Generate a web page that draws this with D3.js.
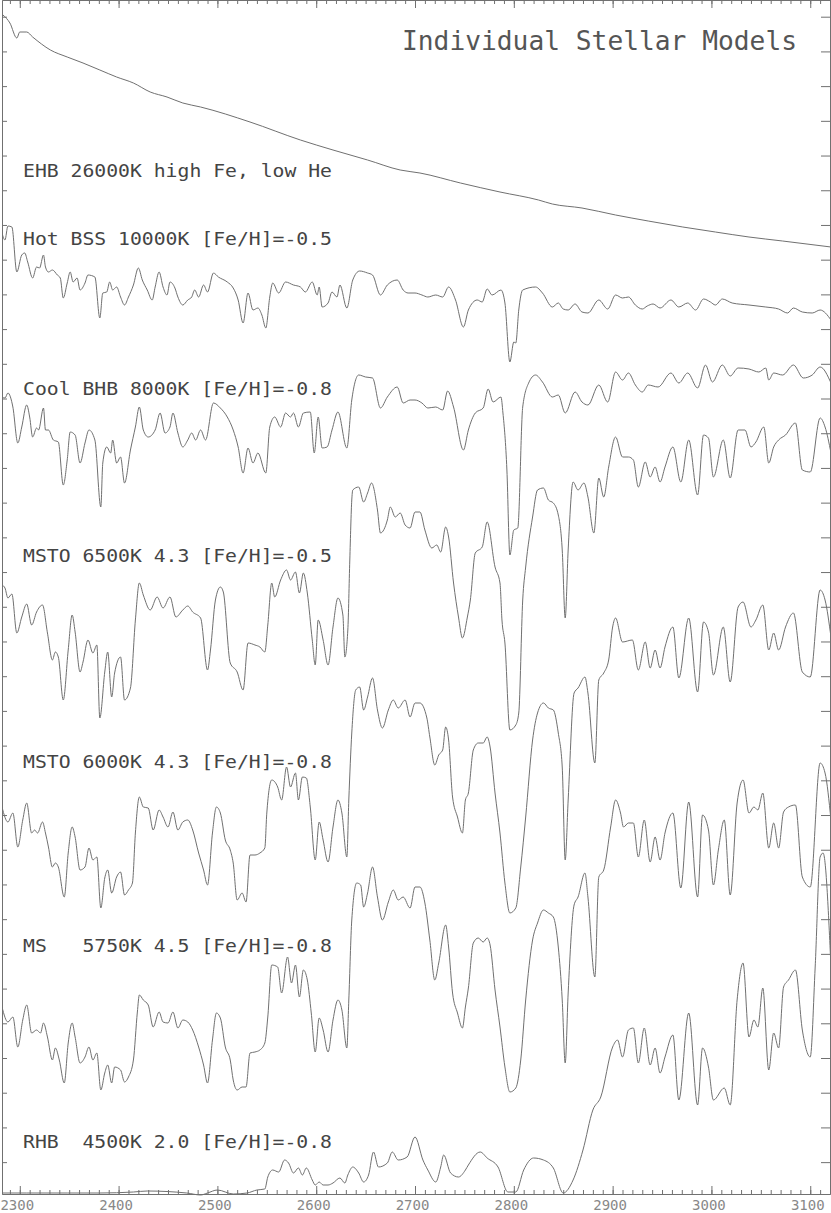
<!DOCTYPE html>
<html>
<head>
<meta charset="utf-8">
<script src="https://cdn.jsdelivr.net/npm/d3@7"></script>
<style>
  html, body { margin: 0; padding: 0; background: #fff; }
  svg { display: block; }
  text { font-family: "DejaVu Sans Mono", monospace; white-space: pre; }
</style>
</head>
<body>
<svg id="chart"></svg>
<script>
// wavelength (A) vs offset flux (arbitrary units)
const ehb = [[2283,117.9],[2290,117.1],[2297,115.6],[2300,116.2],[2307,116.2],[2313,115.7],[2331,114.4],[2348,113.7],[2364,113.1],[2381,112.4],[2398,111.7],[2415,111.1],[2432,110.2],[2449,109.7],[2465,109.1],[2483,108.7],[2533,107.2],[2584,105.4],[2617,104.4],[2652,103.4],[2685,102.4],[2705,102.1],[2746,101.1],[2786,100.2],[2825,99.4],[2839,99.0],[2869,98.6],[2903,97.9],[2936,97.3],[2971,96.7],[3004,96.2],[3038,95.7],[3072,95.3],[3121,94.7]];

const hotBSS = [[2282,96.1],[2285,95.4],[2288,96.8],[2292,96.7],[2297,92.2],[2302,93.9],[2305,94.1],[2308,93.2],[2313,91.6],[2317,92.7],[2320,92.6],[2324,93.9],[2326,92.7],[2329,92.2],[2333,92.4],[2338,91.9],[2341,91.6],[2344,89.6],[2348,91.1],[2351,92.2],[2354,91.2],[2358,91.6],[2361,90.4],[2366,91.1],[2369,91.9],[2376,91.7],[2381,87.6],[2384,90.1],[2388,90.2],[2391,91.2],[2394,90.4],[2398,90.7],[2402,89.7],[2406,88.9],[2410,89.7],[2415,90.9],[2420,92.6],[2424,91.4],[2429,90.4],[2434,89.4],[2437,90.7],[2441,92.2],[2445,90.7],[2449,89.9],[2452,91.2],[2457,90.6],[2460,89.7],[2465,88.9],[2470,89.4],[2474,89.7],[2477,90.4],[2481,89.7],[2486,90.9],[2490,90.2],[2496,92.1],[2501,91.7],[2510,91.2],[2516,90.6],[2521,89.4],[2526,87.1],[2531,90.1],[2536,88.4],[2541,88.6],[2545,87.9],[2549,86.6],[2553,89.7],[2556,91.1],[2562,90.1],[2569,91.2],[2577,90.9],[2584,90.7],[2589,90.2],[2596,91.2],[2601,89.9],[2603,90.7],[2606,88.7],[2612,89.1],[2616,90.2],[2621,89.7],[2624,90.9],[2631,88.6],[2637,91.4],[2644,92.3],[2652,92.1],[2657,91.9],[2665,89.9],[2672,90.9],[2682,91.4],[2688,90.4],[2693,90.1],[2700,90.1],[2707,89.9],[2713,89.7],[2721,89.9],[2728,89.7],[2734,90.7],[2741,89.4],[2749,86.7],[2754,88.4],[2763,89.4],[2768,89.2],[2773,90.5],[2778,89.9],[2787,90.4],[2791,89.1],[2796,83.2],[2800,85.2],[2802,85.1],[2805,88.4],[2809,90.4],[2822,90.7],[2829,90.1],[2839,88.7],[2845,89.1],[2850,88.5],[2855,88.4],[2862,89.0],[2869,88.2],[2875,88.1],[2886,89.4],[2895,88.5],[2903,89.9],[2910,89.6],[2916,89.7],[2923,88.9],[2930,88.5],[2935,88.8],[2941,89.0],[2948,88.6],[2959,89.4],[2967,88.7],[2976,89.1],[2984,88.4],[2992,89.5],[2999,89.2],[3004,88.9],[3011,89.5],[3021,89.1],[3038,88.9],[3055,88.7],[3068,88.5],[3077,88.1],[3083,88.6],[3092,88.2],[3102,88.1],[3110,88.4],[3121,87.4]];

const coolBHB = [[2282,79.7],[2285,79.6],[2288,80.1],[2293,78.7],[2298,75.1],[2302,76.7],[2307,78.9],[2310,77.7],[2313,75.7],[2317,76.6],[2319,76.4],[2324,78.6],[2326,76.4],[2329,76.4],[2334,75.4],[2339,75.2],[2344,70.9],[2348,73.4],[2351,76.2],[2356,75.9],[2361,73.1],[2366,75.1],[2370,76.4],[2376,75.4],[2382,68.7],[2384,73.1],[2388,74.7],[2392,74.1],[2394,75.4],[2398,73.1],[2402,73.7],[2406,71.1],[2412,74.4],[2417,76.7],[2421,78.7],[2425,76.4],[2430,75.7],[2437,76.4],[2442,78.1],[2447,76.1],[2452,76.7],[2455,78.1],[2460,76.1],[2465,74.7],[2470,75.4],[2474,76.1],[2478,75.4],[2483,76.4],[2488,75.4],[2496,79.1],[2503,78.6],[2510,77.7],[2516,76.4],[2521,74.7],[2526,72.1],[2531,74.6],[2536,73.1],[2541,74.1],[2549,72.1],[2553,76.7],[2558,77.7],[2564,76.7],[2569,78.1],[2574,77.7],[2577,78.1],[2582,76.7],[2587,78.1],[2594,78.2],[2598,74.1],[2602,77.7],[2606,74.6],[2611,74.7],[2616,76.4],[2622,78.2],[2631,74.6],[2636,79.4],[2643,81.9],[2650,81.7],[2657,81.6],[2665,78.6],[2672,79.7],[2682,80.7],[2688,79.1],[2695,79.4],[2700,79.4],[2707,79.1],[2713,78.6],[2721,78.7],[2728,78.4],[2733,80.3],[2739,78.7],[2749,74.4],[2754,76.4],[2761,78.1],[2769,78.6],[2774,80.5],[2779,79.2],[2787,79.7],[2789,78.1],[2793,72.4],[2796,63.9],[2800,66.4],[2804,66.6],[2809,78.7],[2815,81.1],[2822,81.9],[2829,81.2],[2839,79.7],[2845,79.9],[2852,78.1],[2862,80.2],[2869,79.2],[2875,78.9],[2886,80.9],[2895,79.2],[2903,82.2],[2910,81.4],[2916,82.1],[2923,80.9],[2930,80.2],[2936,80.9],[2946,80.7],[2959,82.1],[2967,81.1],[2976,82.1],[2986,80.6],[2994,82.9],[3001,81.2],[3011,82.9],[3019,81.8],[3027,82.6],[3038,82.5],[3048,82.2],[3055,82.6],[3058,81.4],[3063,82.1],[3072,81.9],[3083,82.9],[3093,81.6],[3102,81.9],[3110,82.7],[3121,81.1]];

const msto6500 = [[2282,60.9],[2285,60.6],[2288,59.6],[2292,60.0],[2297,56.1],[2302,57.7],[2307,59.0],[2312,56.9],[2317,58.2],[2323,58.9],[2328,56.1],[2333,53.4],[2336,54.2],[2339,53.7],[2344,49.4],[2349,54.4],[2353,57.9],[2356,56.2],[2361,52.2],[2364,53.2],[2369,55.4],[2374,54.1],[2378,54.9],[2381,47.6],[2386,52.2],[2389,54.2],[2393,49.7],[2396,52.1],[2402,53.7],[2406,49.4],[2412,50.6],[2417,57.4],[2421,61.1],[2425,59.9],[2432,58.4],[2439,59.7],[2445,58.6],[2452,59.7],[2458,57.7],[2465,58.4],[2470,58.8],[2475,58.2],[2483,57.6],[2490,52.4],[2493,54.4],[2498,59.4],[2503,60.7],[2506,60.2],[2513,53.1],[2520,52.2],[2526,50.4],[2531,55.1],[2538,54.9],[2543,54.7],[2548,54.2],[2551,56.9],[2555,61.1],[2558,59.7],[2564,61.4],[2570,62.4],[2574,61.4],[2579,62.2],[2583,60.1],[2587,62.1],[2591,60.1],[2596,55.4],[2599,52.9],[2602,57.4],[2607,55.4],[2612,52.9],[2617,56.7],[2622,59.6],[2627,57.9],[2629,53.7],[2632,56.4],[2634,63.4],[2636,69.4],[2637,70.4],[2643,70.7],[2648,69.2],[2652,70.1],[2656,71.1],[2662,68.4],[2665,66.1],[2672,67.4],[2675,68.7],[2680,67.7],[2685,68.1],[2690,66.9],[2695,66.6],[2700,68.2],[2705,68.2],[2710,66.4],[2717,64.6],[2722,64.9],[2726,64.2],[2731,66.7],[2734,65.7],[2739,61.1],[2744,57.7],[2748,55.6],[2753,57.7],[2756,59.4],[2761,64.1],[2768,64.7],[2773,67.2],[2781,62.7],[2786,61.1],[2788,57.4],[2791,55.1],[2796,46.4],[2802,46.9],[2805,48.1],[2809,59.4],[2812,62.7],[2819,67.7],[2824,70.4],[2830,70.6],[2835,69.4],[2840,69.1],[2845,67.9],[2849,64.4],[2852,57.6],[2855,64.4],[2860,71.2],[2865,70.4],[2871,71.1],[2875,69.7],[2881,66.1],[2886,71.6],[2891,69.7],[2896,72.7],[2903,75.7],[2910,73.7],[2916,73.7],[2921,73.4],[2926,70.7],[2933,73.2],[2938,71.7],[2943,72.7],[2948,71.2],[2953,72.7],[2961,74.7],[2969,71.2],[2977,75.4],[2986,69.9],[2992,75.9],[2997,75.6],[3002,71.7],[3012,75.4],[3019,71.6],[3027,76.4],[3034,76.4],[3040,74.7],[3045,75.2],[3053,76.7],[3058,73.1],[3063,74.7],[3068,75.4],[3075,75.9],[3085,77.1],[3092,72.4],[3100,72.2],[3110,77.6],[3115,76.7],[3121,74.1]];

const msto6000 = [[2282,38.7],[2288,37.2],[2293,38.1],[2298,34.7],[2303,37.4],[2307,39.1],[2312,36.1],[2315,36.4],[2318,36.1],[2323,37.2],[2326,36.1],[2329,34.7],[2333,32.7],[2336,33.1],[2339,32.7],[2345,29.7],[2349,34.1],[2353,36.7],[2356,35.7],[2361,32.4],[2366,32.7],[2370,34.6],[2374,33.4],[2378,33.7],[2382,28.6],[2386,31.6],[2389,32.4],[2393,30.1],[2398,31.7],[2402,32.2],[2406,29.9],[2410,30.4],[2414,31.1],[2417,36.1],[2421,39.7],[2425,38.7],[2430,38.6],[2435,36.4],[2441,38.4],[2445,37.7],[2450,36.7],[2455,38.2],[2460,36.4],[2465,37.2],[2470,37.4],[2475,36.4],[2481,34.1],[2486,32.4],[2490,30.9],[2495,36.1],[2499,38.7],[2503,38.1],[2508,35.4],[2513,34.4],[2516,33.1],[2520,29.4],[2525,30.1],[2529,29.2],[2533,33.9],[2538,33.9],[2543,34.1],[2548,34.6],[2550,38.1],[2555,41.4],[2561,40.7],[2565,39.4],[2570,42.7],[2574,40.7],[2579,42.1],[2582,39.4],[2586,41.7],[2590,41.6],[2594,38.7],[2599,33.4],[2603,37.2],[2607,35.4],[2612,33.2],[2617,36.7],[2622,39.4],[2626,38.1],[2631,33.7],[2633,39.4],[2636,46.1],[2640,50.4],[2644,50.7],[2648,48.4],[2652,49.7],[2657,51.6],[2662,48.4],[2667,46.6],[2673,48.4],[2678,49.4],[2683,48.6],[2690,49.4],[2695,47.7],[2700,49.1],[2705,49.1],[2712,47.6],[2715,45.7],[2720,42.9],[2724,43.9],[2728,44.4],[2731,46.7],[2734,45.4],[2738,39.7],[2743,37.7],[2748,36.1],[2751,39.4],[2754,40.1],[2759,44.4],[2764,45.1],[2769,45.1],[2773,45.7],[2776,44.7],[2781,40.1],[2786,36.1],[2791,31.1],[2796,28.1],[2802,28.6],[2807,32.7],[2812,37.7],[2819,45.4],[2824,48.1],[2830,49.1],[2835,48.6],[2840,48.4],[2845,46.1],[2849,42.7],[2852,33.4],[2855,39.4],[2861,50.1],[2865,50.6],[2872,51.7],[2875,50.1],[2882,43.1],[2886,51.4],[2891,52.1],[2896,53.4],[2900,56.7],[2903,57.6],[2910,55.2],[2920,55.4],[2926,52.4],[2933,55.2],[2938,52.6],[2943,54.4],[2948,52.6],[2953,54.7],[2961,56.7],[2967,51.6],[2977,57.6],[2986,50.2],[2992,57.2],[2997,56.2],[3002,51.9],[3012,56.7],[3019,51.2],[3027,58.7],[3032,59.2],[3040,56.7],[3045,57.4],[3052,58.9],[3058,54.4],[3063,56.1],[3068,54.4],[3075,56.7],[3083,58.1],[3092,52.2],[3100,51.7],[3110,60.4],[3115,59.4],[3121,55.7]];

const ms5750 = [[2282,18.7],[2288,17.2],[2293,17.7],[2298,14.7],[2303,17.4],[2307,18.9],[2312,16.1],[2317,16.4],[2321,16.1],[2324,17.1],[2328,15.7],[2333,13.4],[2336,14.6],[2340,13.4],[2345,11.1],[2349,15.1],[2353,17.1],[2356,15.7],[2361,13.1],[2366,13.7],[2370,14.7],[2374,13.4],[2378,14.1],[2382,10.4],[2386,12.1],[2389,12.9],[2393,11.1],[2396,12.7],[2402,12.4],[2406,11.2],[2410,11.7],[2415,13.4],[2419,18.2],[2421,19.9],[2425,19.4],[2430,18.9],[2435,16.7],[2441,18.2],[2445,17.2],[2450,17.1],[2455,18.2],[2460,16.6],[2465,17.4],[2470,17.2],[2475,16.4],[2481,14.7],[2486,12.9],[2490,11.1],[2495,15.4],[2499,18.1],[2503,17.6],[2508,14.7],[2513,13.4],[2516,11.4],[2520,10.4],[2525,10.7],[2529,10.7],[2533,14.1],[2538,14.2],[2543,14.4],[2548,15.1],[2551,17.7],[2555,22.9],[2561,22.7],[2565,20.1],[2571,23.7],[2575,21.1],[2579,22.9],[2583,19.7],[2587,22.4],[2591,21.4],[2595,18.1],[2599,14.2],[2603,17.6],[2607,16.4],[2612,14.2],[2617,17.4],[2622,19.4],[2626,18.4],[2631,14.6],[2633,19.4],[2636,27.4],[2641,31.1],[2645,30.9],[2648,28.7],[2652,30.1],[2657,32.7],[2662,29.7],[2667,27.4],[2673,29.2],[2678,30.4],[2683,29.4],[2688,29.7],[2695,28.6],[2700,30.7],[2705,30.7],[2710,29.1],[2715,25.4],[2720,21.4],[2724,23.1],[2731,26.9],[2734,24.7],[2738,20.1],[2743,18.1],[2748,16.6],[2751,18.7],[2754,20.6],[2759,25.1],[2764,25.6],[2769,25.2],[2773,25.6],[2776,24.9],[2781,20.4],[2786,16.7],[2791,12.7],[2796,10.2],[2802,10.6],[2807,13.4],[2812,19.4],[2819,25.4],[2824,27.1],[2830,28.4],[2835,28.1],[2840,27.7],[2845,24.7],[2849,19.4],[2852,13.1],[2855,20.1],[2861,28.9],[2865,29.7],[2872,32.1],[2875,29.7],[2882,21.7],[2886,31.7],[2891,32.4],[2898,36.7],[2903,39.4],[2908,38.1],[2911,36.7],[2916,37.1],[2921,37.1],[2926,33.7],[2932,37.4],[2938,33.2],[2943,35.7],[2948,33.4],[2953,36.1],[2961,38.1],[2969,30.6],[2977,39.2],[2986,29.7],[2991,37.9],[2997,36.4],[3002,30.9],[3007,34.4],[3013,37.4],[3019,29.9],[3026,39.1],[3032,41.4],[3038,38.1],[3043,38.7],[3047,38.4],[3052,40.1],[3058,34.6],[3063,37.1],[3068,34.6],[3073,38.2],[3078,38.7],[3085,38.9],[3092,31.7],[3100,30.7],[3110,43.1],[3115,42.1],[3121,37.4]];

const rhb = [[2282,0.1],[2307,0.1],[2348,0.1],[2381,0.1],[2415,0.2],[2429,0.3],[2469,0.1],[2483,-0.1],[2490,0.1],[2500,0.4],[2516,0.0],[2530,0.1],[2540,0.4],[2548,0.5],[2551,1.7],[2556,2.4],[2562,2.2],[2568,3.4],[2572,3.1],[2577,2.1],[2582,2.6],[2586,1.9],[2590,2.6],[2596,1.4],[2599,0.9],[2603,1.2],[2607,0.9],[2612,0.9],[2617,1.1],[2624,1.6],[2629,1.1],[2632,1.9],[2637,2.7],[2643,2.1],[2648,1.2],[2653,1.9],[2658,4.2],[2663,2.7],[2672,3.1],[2677,4.2],[2683,3.4],[2692,3.7],[2700,5.7],[2708,3.4],[2713,2.4],[2721,1.2],[2726,2.7],[2729,3.9],[2736,2.1],[2744,1.7],[2751,2.4],[2754,2.9],[2766,4.2],[2773,3.6],[2784,2.7],[2794,0.2],[2802,0.2],[2810,2.4],[2820,3.6],[2830,3.4],[2840,2.6],[2850,0.1],[2860,1.4],[2870,4.4],[2880,8.4],[2888,9.7],[2900,14.7],[2905,15.4],[2910,13.7],[2916,16.4],[2921,16.6],[2926,13.1],[2932,16.6],[2938,12.9],[2943,14.6],[2948,12.1],[2953,13.7],[2961,15.9],[2967,9.4],[2977,18.1],[2986,8.9],[2991,14.6],[2997,12.7],[3002,9.4],[3013,10.6],[3019,8.9],[3026,19.4],[3032,23.1],[3038,15.7],[3043,17.4],[3047,16.7],[3052,20.6],[3058,12.4],[3063,16.1],[3068,14.6],[3073,20.7],[3078,21.4],[3085,22.4],[3092,16.4],[3100,13.7],[3105,22.7],[3110,33.7],[3113,34.1],[3121,22.7]];

const spectra = [ehb, hotBSS, coolBHB, msto6500, msto6000, ms5750, rhb];

// model labels: text and flux level of the baseline
const labelText = [
  "EHB 26000K high Fe, low He",
  "Hot BSS 10000K [Fe/H]=-0.5",
  "Cool BHB 8000K [Fe/H]=-0.8",
  "MSTO 6500K 4.3 [Fe/H]=-0.5",
  "MSTO 6000K 4.3 [Fe/H]=-0.8",
  "MS   5750K 4.5 [Fe/H]=-0.8",
  "RHB  4500K 2.0 [Fe/H]=-0.8"
];
const labelFlux = [101.7, 94.9, 79.9, 63.2, 42.6, 24.2, 4.6];

const titleText = "Individual Stellar Models";
const xMajor = [2300, 2400, 2500, 2600, 2700, 2800, 2900, 3000, 3100];
const xMinor = d3.range(2290, 3121, 10);
const yTickStep = 3.471;
const yTicks = d3.range(0, 34).map(k => 117.73 - k * yTickStep);

const width = 831, height = 1213;
const plotL = 2, plotR = 830, plotT = 0, plotB = 1194;

const svg = d3.select("#chart")
  .attr("width", width)
  .attr("height", height);

svg.append("rect").attr("width", width).attr("height", height).attr("fill", "#fff");

const x = d3.scaleLinear().domain([2282, 3120]).range([plotL, plotR]);
const y = d3.scaleLinear().domain([0, 119.4]).range([plotB, plotT]);

const ink = "#707070";

// bottom axis, minor and major ticks pointing up
svg.append("g")
  .attr("transform", `translate(0,${plotB})`)
  .call(d3.axisBottom(x).tickValues(xMinor).tickSize(-4).tickSizeOuter(0).tickFormat(""));
svg.append("g")
  .attr("class", "xmajor")
  .attr("transform", `translate(0,${plotB})`)
  .call(d3.axisBottom(x).tickValues(xMajor).tickSize(-8).tickSizeOuter(0).tickPadding(6).tickFormat(d3.format("d")));

// top axis mirror
svg.append("g")
  .call(d3.axisTop(x).tickValues(xMinor).tickSize(-4).tickSizeOuter(0).tickFormat(""));
svg.append("g")
  .call(d3.axisTop(x).tickValues(xMajor).tickSize(-8).tickSizeOuter(0).tickFormat(""));

// left and right axes, unlabeled
svg.append("g")
  .attr("transform", `translate(${plotL},0)`)
  .call(d3.axisLeft(y).tickValues(yTicks).tickSize(-5).tickSizeOuter(0).tickFormat(""));
svg.append("g")
  .attr("transform", `translate(${plotR},0)`)
  .call(d3.axisRight(y).tickValues(yTicks).tickSize(-9).tickSizeOuter(0).tickFormat(""));

svg.selectAll(".domain").attr("stroke", ink);
svg.selectAll(".tick line").attr("stroke", ink);
svg.selectAll(".xmajor text")
  .attr("font-family", "DejaVu Sans Mono")
  .attr("font-size", 14)
  .attr("fill", "#888")
  .attr("dx", -3);

svg.append("clipPath").attr("id", "plot")
  .append("rect").attr("x", plotL).attr("y", plotT).attr("width", plotR - plotL).attr("height", plotB - plotT + 2);

const line = d3.line()
  .x(d => x(d[0]))
  .y(d => y(d[1]))
  .curve(d3.curveMonotoneX);

svg.append("g")
  .attr("clip-path", "url(#plot)")
  .selectAll("path")
  .data(spectra)
  .join("path")
  .attr("d", line)
  .attr("fill", "none")
  .attr("stroke", ink)
  .attr("stroke-width", 1);

const charW = 12;
svg.append("g")
  .selectAll("text")
  .data(labelText)
  .join("text")
  .attr("x", 23)
  .attr("y", (d, i) => y(labelFlux[i]))
  .attr("font-size", 18)
  .attr("fill", "#444")
  .attr("textLength", d => d.length * charW - 3)
  .attr("lengthAdjust", "spacingAndGlyphs")
  .text(d => d);

svg.append("text")
  .attr("x", 402)
  .attr("y", 50)
  .attr("font-size", 27)
  .attr("fill", "#555")
  .attr("textLength", 395)
  .attr("lengthAdjust", "spacingAndGlyphs")
  .text(titleText);
</script>
</body>
</html>
